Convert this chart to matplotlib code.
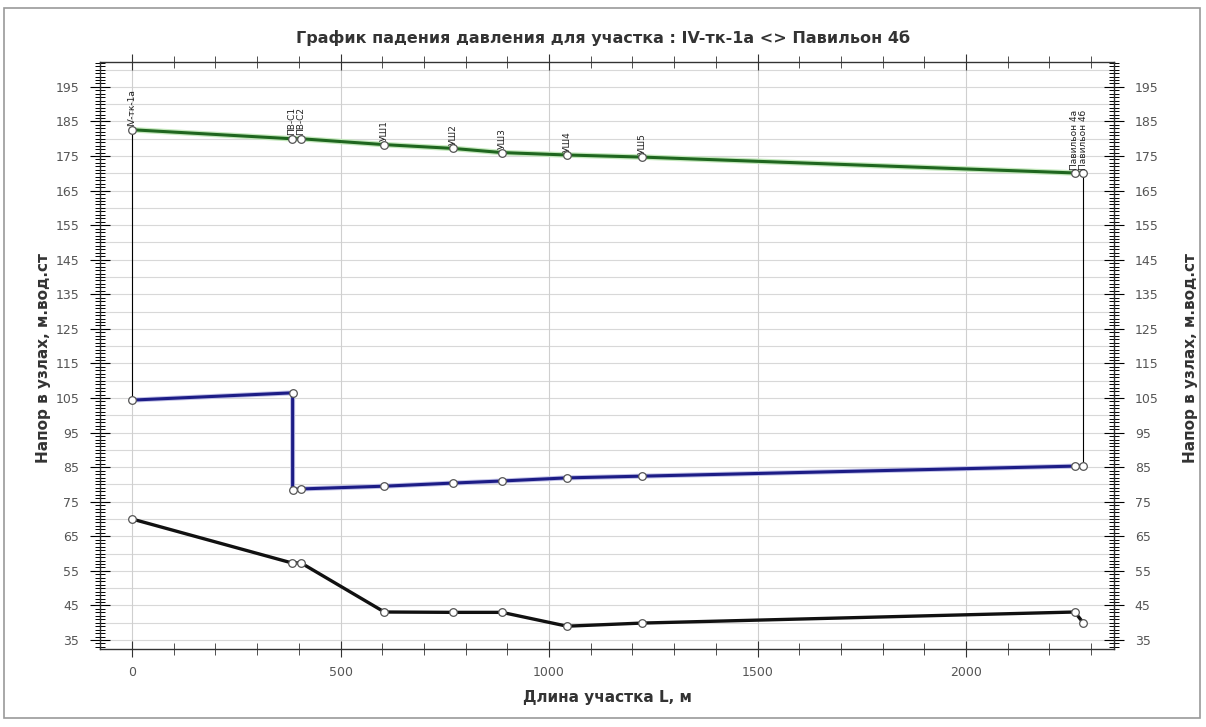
import matplotlib
matplotlib.use("Agg")
import matplotlib.pyplot as plt
from matplotlib.ticker import MultipleLocator
from matplotlib.patches import Rectangle

# node positions along the section, m
dist_top = [0, 383, 405, 605, 770, 887, 1043, 1223, 2261, 2281]
node_names = ["IV-тк-1а", "ПВ-С1", "ПВ-С2", "УШ1", "УШ2", "УШ3", "УШ4", "УШ5",
              "Павильон 4а", "Павильон 4б"]

# supply head (green)
head_supply = [182.6, 180.0, 180.0, 178.3, 177.2, 176.0, 175.3, 174.7, 170.1, 170.0]

# return head (blue), has a drop at ~385 m
dist_return = [0, 385, 385, 405, 605, 770, 887, 1043, 1223, 2261, 2281]
head_return = [104.4, 106.5, 78.5, 78.7, 79.5, 80.4, 81.0, 81.9, 82.4, 85.3, 85.3]

# ground / geodetic (black)
dist_ground = [0, 383, 405, 605, 770, 887, 1043, 1223, 2261, 2281]
head_ground = [70.0, 57.3, 57.3, 43.1, 43.0, 43.0, 39.0, 39.9, 43.1, 40.0]

fig = plt.figure(figsize=(12.06, 7.27), dpi=100)
ax = fig.add_axes([100 / 1206, 1 - 649 / 727, 1014 / 1206, 587 / 727])

# window frame
fig.patches.append(Rectangle((4 / 1206, 1 - 718 / 727), 1196 / 1206, 710 / 727,
                             transform=fig.transFigure, fill=False,
                             edgecolor="#9a9a9a", linewidth=1.2))

# thin connectors between return and supply at the ends
ax.plot([dist_top[0], dist_top[0]], [head_return[0], head_supply[0]],
        color="black", linewidth=0.8, zorder=2)
ax.plot([dist_top[-1], dist_top[-1]], [head_return[-1], head_supply[-1]],
        color="black", linewidth=0.8, zorder=2)

mk = dict(marker="o", markersize=5.5, markerfacecolor="white",
          markeredgecolor="#555555", markeredgewidth=0.9)

ax.plot(dist_top, head_supply, color="#c4e8bc", linewidth=4, zorder=3)
ax.plot(dist_top, head_supply, color="#1f661f", linewidth=2.2, zorder=4, **mk)
ax.plot(dist_return, head_return, color="#c0c0e6", linewidth=3.6, zorder=3)
ax.plot(dist_return, head_return, color="#1c1c86", linewidth=2.2, zorder=4, **mk)
ax.plot(dist_ground, head_ground, color="#111111", linewidth=2.4, zorder=4, **mk)

for x, y, name in zip(dist_top, head_supply, node_names):
    ax.text(x, y + 1.0, name, rotation=90, fontsize=6.5, ha="center",
            va="bottom", color="#222222", zorder=5)

ax.set_xlim(-77, 2355)
ax.set_ylim(32.4, 202.2)

ax.xaxis.set_major_locator(MultipleLocator(500))
ax.xaxis.set_minor_locator(MultipleLocator(100))
ax.set_yticks(range(35, 200, 10))
ax.yaxis.set_minor_locator(MultipleLocator(1))

ax.grid(True, which="major", axis="x", color="#cfcfcf", linewidth=0.8)
for v in range(35, 205, 5):
    ax.axhline(v, color="#d8d8d8", linewidth=0.8, zorder=0)

ax.tick_params(axis="x", which="both", direction="inout", top=True,
               labelsize=9, colors="#333333", labelcolor="#555555")
ax.tick_params(axis="x", which="major", length=12, pad=6)
ax.tick_params(axis="x", which="minor", length=9)
ax.tick_params(axis="y", which="both", direction="inout", right=True,
               labelright=True, labelsize=9, labelcolor="#555555")
ax.tick_params(axis="y", which="major", length=14, pad=8)
ax.tick_params(axis="y", which="minor", length=7, width=0.7)

for s in ax.spines.values():
    s.set_color("#333333")
    s.set_linewidth(1.0)

ax.set_xlabel("Длина участка L, м", fontsize=11, fontweight="bold",
              color="#333333", labelpad=8)
# y labels on both sides
for xpix in (44, 1190):
    fig.text(xpix / 1206, 1 - 358 / 727, "Напор в узлах, м.вод.ст",
             rotation=90, fontsize=11, fontweight="bold", color="#333333",
             ha="center", va="center")

fig.text(0.5, 1 - 38 / 727, "График падения давления для участка : IV-тк-1а <> Павильон 4б",
         fontsize=11.5, fontweight="bold", color="#333333", ha="center", va="center")

fig.savefig("out.png", dpi=100)
